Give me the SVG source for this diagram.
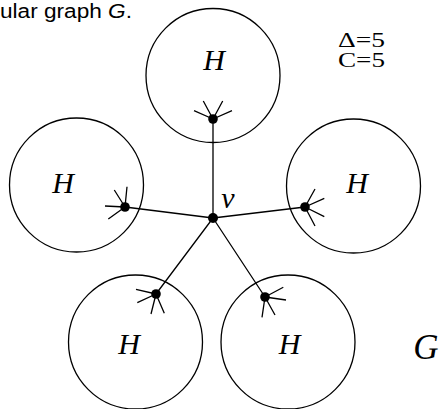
<svg xmlns="http://www.w3.org/2000/svg" width="439" height="409" viewBox="0 0 439 409">
<style>
.c{fill:none;stroke:#000;stroke-width:1.3}
.e{stroke:#000;stroke-width:1.3;fill:none}
.d{fill:#000}
.h{font-family:"Liberation Serif",serif;font-style:italic;font-size:30px;text-anchor:middle}
.t{font-family:"Liberation Serif",serif;font-size:20px}
.s{font-family:"Liberation Sans",sans-serif;font-size:20px}
</style>
<rect width="439" height="409" fill="#fff"/>
<text class="s" x="0" y="18" textLength="132" lengthAdjust="spacingAndGlyphs">ular graph <tspan font-style="italic">G</tspan>.</text>
<text class="t" x="338" y="47" textLength="47" lengthAdjust="spacingAndGlyphs">Δ=5</text>
<text class="t" x="338" y="67" textLength="47" lengthAdjust="spacingAndGlyphs">C=5</text>
<text x="426" y="359" font-family="Liberation Serif,serif" font-style="italic" font-size="35" text-anchor="middle">G</text>
<g id="connectors">
<path class="e" d="M213,218L213,119M213,218L125,207M213,218L305,207M213,218L156,294M213,218L265,297"/>
</g>
<g id="H-top">
<circle class="c" cx="213" cy="75.5" r="67"/>
<text class="h" x="214" y="70">H</text>
<path class="e" d="M213,119L194,110.7M213,119L203.3,101M213,119L222.7,101M213,119L232,110.7"/>
<circle class="d" cx="213" cy="119" r="4.8"/>
</g>
<g id="H-left">
<circle class="c" cx="76.5" cy="185" r="67"/>
<text class="h" x="63" y="193">H</text>
<path class="e" d="M125,207L105,206M125,207L108.3,219M125,207L114.3,190M125,207L127,186.7"/>
<circle class="d" cx="125" cy="207" r="4.8"/>
</g>
<g id="H-right">
<circle class="c" cx="353.5" cy="186" r="67"/>
<text class="h" x="357" y="193">H</text>
<path class="e" d="M305,207L315,189M305,207L324.3,198.3M305,207L324.3,216.7M305,207L315,226"/>
<circle class="d" cx="305" cy="207" r="4.8"/>
</g>
<g id="H-bottom-left">
<circle class="c" cx="135.5" cy="342" r="67"/>
<text class="h" x="129" y="354">H</text>
<path class="e" d="M156,294L136,289.3M156,294L137.3,302.7M156,294L151,314M156,294L164.3,313.3"/>
<circle class="d" cx="156" cy="294" r="4.8"/>
</g>
<g id="H-bottom-right">
<circle class="c" cx="288" cy="342" r="67"/>
<text class="h" x="289.5" y="354">H</text>
<path class="e" d="M265,297L283.3,287.3M265,297L286,300M265,297L275,315M265,297L262,317.3"/>
<circle class="d" cx="265" cy="297" r="4.8"/>
</g>
<g id="v">
<circle class="d" cx="213" cy="218" r="5"/>
<text class="h" x="228" y="208">v</text>
</g>
</svg>
